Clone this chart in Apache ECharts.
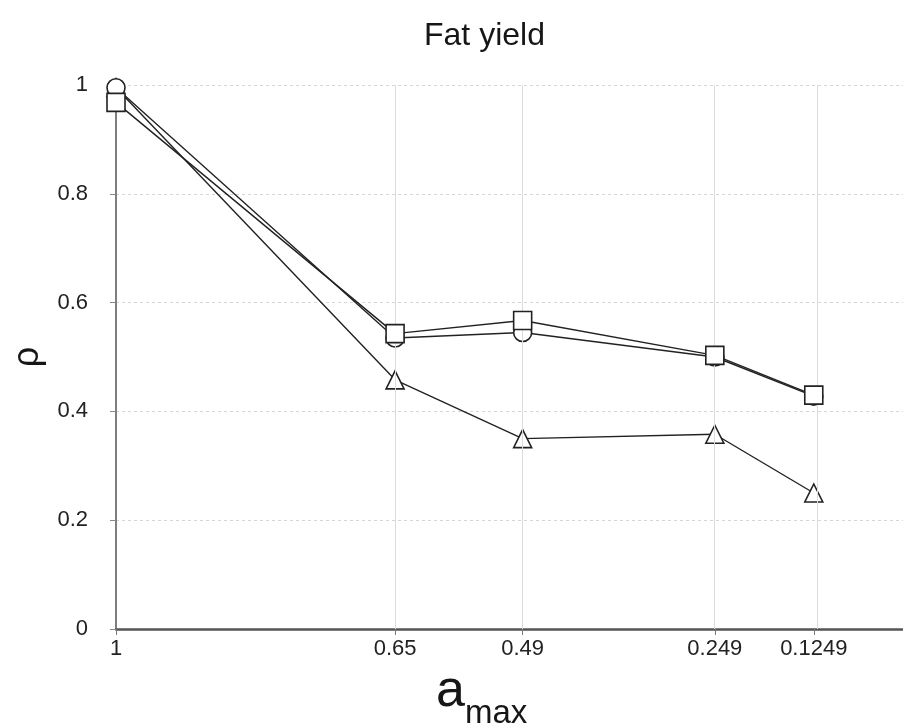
<!DOCTYPE html>
<html>
<head>
<meta charset="utf-8">
<script src="https://cdn.jsdelivr.net/npm/echarts@6/dist/echarts.min.js"></script>
<style>
  html, body { margin: 0; padding: 0; background: #ffffff; }
  #chart { width: 903px; height: 728px; }
</style>
</head>
<body>
<div id="chart"></div>
<script>
// a_max thresholds (x positions) and their tick labels
const aMax = [1, 0.65, 0.49, 0.249, 0.1249];
const xTickValues = [1, 0.65, 0.49, 0.249, 0.1249];

// correlation ρ for the three series
const rhoCircle = [0.995, 0.535, 0.545, 0.500, 0.428];
const rhoSquare = [0.968, 0.543, 0.567, 0.503, 0.430];
const rhoTriangle = [0.995, 0.458, 0.350, 0.358, 0.250];

const pairs = (ys) => aMax.map((x, i) => [x, ys[i]]);

const fontFamily = 'Liberation Sans, Arial, sans-serif';
const lineColor = '#222222';
const markerStyle = {
  color: '#ffffff',
  borderColor: '#222222',
  borderWidth: 1.6
};

const chart = echarts.init(document.getElementById('chart'), null, { renderer: 'canvas' });

chart.setOption({
  animation: false,
  backgroundColor: '#ffffff',
  title: {
    text: 'Fat yield',
    left: 419,
    top: 15,
    textStyle: { fontFamily, fontSize: 32, fontWeight: 'normal', color: '#161616' }
  },
  grid: { left: 116, right: 0, top: 85, bottom: 99, containLabel: false },
  xAxis: {
    type: 'value',
    inverse: true,
    min: 0.013,
    max: 1,
    axisLine: { show: true, onZero: false, lineStyle: { color: '#555555', width: 2.5 } },
    axisTick: { show: true, customValues: xTickValues, length: 6, lineStyle: { color: '#777777' } },
    axisLabel: {
      customValues: xTickValues,
      formatter: (v) => String(v),
      margin: 9,
      fontFamily,
      fontSize: 22,
      color: '#222222'
    },
    splitLine: { show: false }
  },
  yAxis: {
    type: 'value',
    min: 0,
    max: 1,
    interval: 0.2,
    name: 'ρ',
    nameLocation: 'middle',
    nameGap: 63,
    nameTextStyle: { fontFamily, fontSize: 36, color: '#161616' },
    axisLine: { show: true, lineStyle: { color: '#555555', width: 1.5 } },
    axisTick: { show: true, length: 6, lineStyle: { color: '#888888' } },
    axisLabel: {
      margin: 28,
      fontFamily,
      fontSize: 22,
      color: '#222222'
    },
    splitLine: { show: true, lineStyle: { color: '#d6d6d6', type: [3, 3], width: 1 } }
  },
  graphic: [
    {
      // x-axis title: a with subscript "max"
      type: 'text',
      left: 436,
      top: 666,
      style: {
        text: '{a|a}{s|max}',
        rich: {
          a: { fontFamily, fontSize: 52, fill: '#161616', verticalAlign: 'bottom', lineHeight: 54 },
          s: { fontFamily, fontSize: 33, fill: '#161616', verticalAlign: 'bottom', lineHeight: 54, padding: [0, 0, -12, 0] }
        }
      }
    }
  ],
  series: [
    {
      // vertical reference lines at each a_max threshold
      type: 'line',
      data: [],
      silent: true,
      markLine: {
        silent: true,
        symbol: 'none',
        label: { show: false },
        lineStyle: { color: '#dcdcdc', type: 'solid', width: 1 },
        data: xTickValues.slice(1).map((v) => ({ xAxis: v }))
      }
    },
    {
      name: 'triangle',
      type: 'line',
      data: pairs(rhoTriangle),
      symbol: 'triangle',
      symbolSize: 18,
      lineStyle: { color: lineColor, width: 1.4 },
      itemStyle: markerStyle,
      z: 3
    },
    {
      name: 'circle',
      type: 'line',
      data: pairs(rhoCircle),
      symbol: 'circle',
      symbolSize: 18,
      lineStyle: { color: lineColor, width: 1.4 },
      itemStyle: markerStyle,
      z: 4
    },
    {
      name: 'square',
      type: 'line',
      data: pairs(rhoSquare),
      symbol: 'rect',
      symbolSize: 18,
      lineStyle: { color: lineColor, width: 1.4 },
      itemStyle: markerStyle,
      z: 5
    }
  ]
});
</script>
</body>
</html>
